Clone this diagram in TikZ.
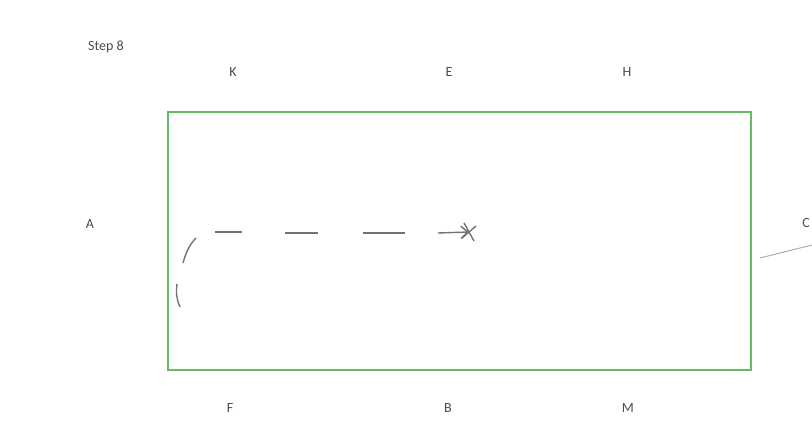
\documentclass[tikz,border=0pt]{standalone}
\usepackage{fontspec}
\setmainfont{Carlito}
\usetikzlibrary{arrows.meta}
\begin{document}
\begin{tikzpicture}[
    x=0.02cm, y=-0.02cm,
    marker/.style={text=black!70, font=\fontsize{8}{9}\selectfont, inner sep=1pt},
    arena/.style={draw=green!55!black!60, line width=0.9pt},
    pencil/.style={draw=black!55, line width=0.8pt},
  ]
  \useasboundingbox (0,0) rectangle (812,423);
  % title
  \node[marker, anchor=west] (title) at (86,47) {Step 8};
  % arena
  \draw[arena] (168,112) rectangle (751,370);
  % letters
  \node[marker] (K) at (233,72) {K};
  \node[marker] (E) at (449,72) {E};
  \node[marker] (H) at (627,72) {H};
  \node[marker] (A) at (90,224) {A};
  \node[marker] (C) at (806,223) {C};
  \node[marker] (F) at (230,408) {F};
  \node[marker] (B) at (448,408) {B};
  \node[marker] (M) at (628,408) {M};
  % route
  \coordinate (start) at (180,307);
  \coordinate (turn) at (215,232);
  \coordinate (goal) at (469,232);
  \draw[pencil] (start) .. controls (176,298) and (176,290) .. (177,284);
  \draw[pencil] (183,263) .. controls (186,252) and (190,244) .. (196,238);
  \draw[pencil] (turn) -- ++(27,0);
  \draw[pencil] (285,233) -- ++(33,0);
  \draw[pencil] (363,233) -- ++(42,0);
  \draw[pencil, -{Straight Barb[length=4pt,width=7pt]}] (438,233) -- (goal);
  \draw[pencil] (goal) ++(-5,-9) -- ++(10,18);
  \draw[pencil] (goal) ++(7,-6) -- ++(-14,12);
  % paper edge
  \draw[black!35, line width=0.5pt] (760,258) -- (812,245);
\end{tikzpicture}
\end{document}
